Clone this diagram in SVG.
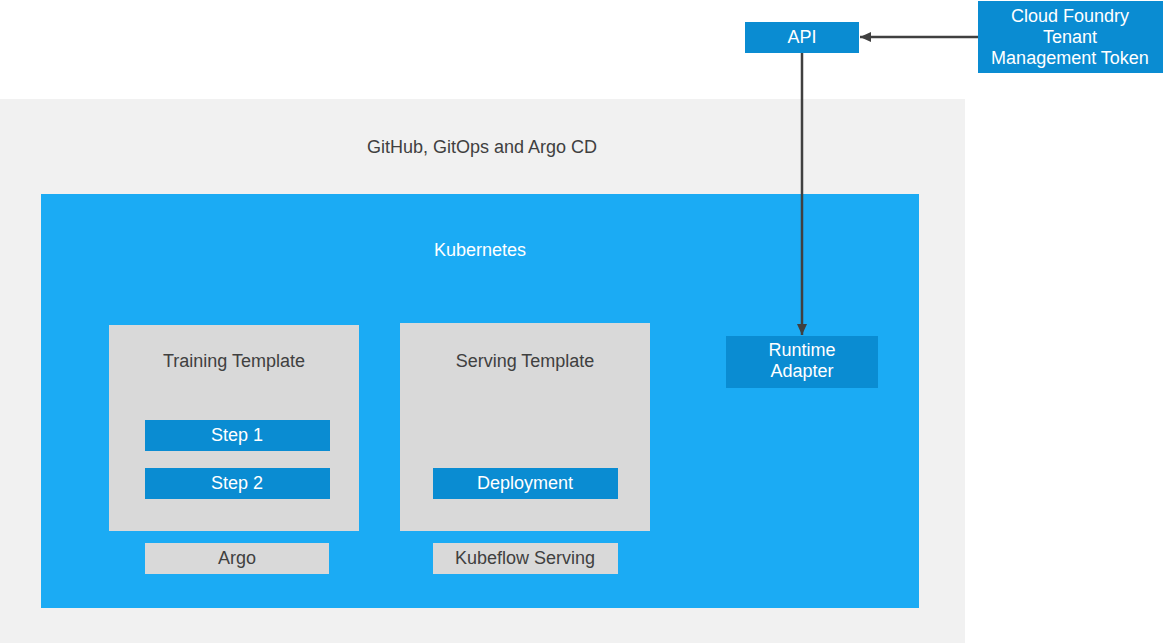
<svg xmlns="http://www.w3.org/2000/svg" width="1163" height="643" viewBox="0 0 1163 643">
<defs>
<style>
.t{font-family:"Liberation Sans",Arial,sans-serif;font-size:18px;text-anchor:middle}
.dk{fill:#404040}
.wh{fill:#ffffff}
.blue{fill:#0A8CD2}
.gray{fill:#D9D9D9}
.conn{stroke:#404040;stroke-width:2.5;fill:none}
</style>
<marker id="ah" markerWidth="12" markerHeight="12" refX="11" refY="6" orient="auto" markerUnits="userSpaceOnUse">
<path d="M0,1 L11,6 L0,11 Z" fill="#404040"/>
</marker>
</defs>
<rect x="0" y="0" width="1163" height="643" fill="#ffffff"/>
<g id="gitops">
<rect x="0" y="99" width="965" height="544" fill="#F1F1F1"/>
<text class="t dk" x="482" y="153">GitHub, GitOps and Argo CD</text>
</g>
<g id="kubernetes">
<rect x="41" y="194" width="878" height="414" fill="#1BABF4"/>
<text class="t wh" x="480" y="256">Kubernetes</text>
</g>
<g id="training-template">
<rect class="gray" x="109" y="325" width="250" height="206"/>
<text class="t dk" x="234" y="367">Training Template</text>
</g>
<g id="step1">
<rect class="blue" x="145" y="420" width="185" height="31"/>
<text class="t wh" x="237" y="441">Step 1</text>
</g>
<g id="step2">
<rect class="blue" x="145" y="468" width="185" height="31"/>
<text class="t wh" x="237" y="489">Step 2</text>
</g>
<g id="argo">
<rect class="gray" x="145" y="543" width="184" height="31"/>
<text class="t dk" x="237" y="564">Argo</text>
</g>
<g id="serving-template">
<rect class="gray" x="400" y="323" width="250" height="208"/>
<text class="t dk" x="525" y="367">Serving Template</text>
</g>
<g id="deployment">
<rect class="blue" x="433" y="468" width="185" height="31"/>
<text class="t wh" x="525" y="489">Deployment</text>
</g>
<g id="kubeflow-serving">
<rect class="gray" x="433" y="543" width="185" height="31"/>
<text class="t dk" x="525" y="564">Kubeflow Serving</text>
</g>
<g id="runtime-adapter">
<rect class="blue" x="726" y="336" width="152" height="52"/>
<text class="t wh" x="802" y="356">Runtime</text>
<text class="t wh" x="802" y="377">Adapter</text>
</g>
<g id="api">
<rect class="blue" x="745" y="22" width="114" height="31"/>
<text class="t wh" x="802" y="43">API</text>
</g>
<g id="cloud-foundry">
<rect class="blue" x="978" y="1" width="185" height="72"/>
<text class="t wh" x="1070" y="22">Cloud Foundry</text>
<text class="t wh" x="1070" y="43">Tenant</text>
<text class="t wh" x="1070" y="64">Management Token</text>
</g>
<g id="connectors">
<line class="conn" x1="978" y1="37" x2="860" y2="37" marker-end="url(#ah)"/>
<line class="conn" x1="802" y1="53" x2="802" y2="335" marker-end="url(#ah)"/>
</g>
</svg>
